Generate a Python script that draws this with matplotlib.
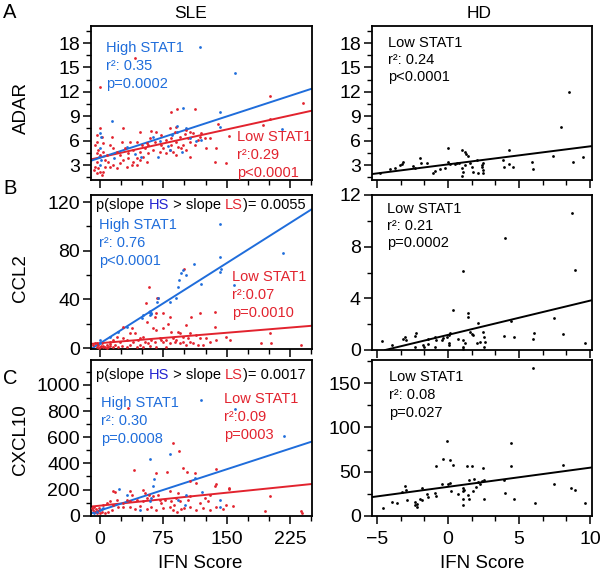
import matplotlib.pyplot as plt
from matplotlib.ticker import MultipleLocator, AutoMinorLocator
from matplotlib.offsetbox import TextArea, HPacker, AnchoredOffsetbox

plt.rcParams['font.family'] = ['Liberation Sans', 'DejaVu Sans']

# ---------------- datos ----------------
# SLE: (IFN score, expresión) - pacientes High STAT1 (HS) y Low STAT1 (LS)
adar_hs = [(119, 17.5), (160, 14.3), (98, 10.0), (142, 9.55), (13.8, 8.4), (0, 7.0),
           (1.5, 6.4), (91, 7.75), (91, 7.1), (102, 7.5), (85, 6.7), (106, 6.3),
           (114, 5.9), (63, 6.5), (71, 5.9), (31.5, 5.25), (49, 4.0), (0, 5.05),
           (-1, 4.0), (0, 3.0), (1, 3.6), (69, 4.0), (142, 7.7), (83, 4.85),
           (97.6, 4.6), (216, 7.4), (17, 3.9), (42, 4.3), (80, 5.4), (120, 6.1)]
adar_ls = [(84.6, 9.56), (91.3, 9.88), (112.2, 9.84), (27.6, 7.51), (61.0, 7.18),
           (47.2, 7.10), (66.9, 7.10), (82.7, 7.51), (89.8, 7.71), (102.4, 7.30),
           (106.3, 7.10), (120.1, 6.89), (118.1, 6.48), (116.2, 6.07), (124.0, 6.28),
           (129.9, 6.28), (104.3, 6.36), (110.2, 6.89), (78.7, 6.07), (72.8, 6.69),
           (59.1, 6.28), (55.1, 5.66), (53.2, 5.05), (43.3, 5.87), (35.4, 5.87),
           (25.6, 5.87), (11.8, 5.46), (15.7, 5.05), (19.7, 4.64), (23.6, 4.23),
           (27.6, 3.61), (33.5, 3.82), (39.4, 3.41), (43.3, 3.00), (47.2, 3.61),
           (51.2, 4.02), (55.1, 3.41), (57.1, 4.43), (63.0, 4.84), (70.9, 4.64),
           (74.8, 5.05), (78.7, 4.43), (82.7, 4.84), (86.6, 4.64), (90.5, 4.23),
           (92.5, 5.25), (96.5, 5.05), (98.4, 5.46), (102.4, 4.84), (106.3, 4.02),
           (-3.9, 6.69), (-3.9, 5.87), (-5.9, 5.46), (-2.0, 4.84), (-3.9, 4.43),
           (0.0, 4.23), (3.9, 4.64), (7.9, 4.23), (5.9, 3.61), (9.8, 3.41),
           (11.8, 2.79), (15.7, 3.00), (19.7, 2.59), (-3.9, 3.41), (-5.9, 2.79),
           (-2.0, 2.59), (0.0, 2.18), (3.9, 2.18), (-3.9, 1.97), (2.0, 1.77),
           (-7.1, 2.38), (5.9, 2.79), (23.6, 3.20), (31.5, 2.79), (37.4, 3.00),
           (43.3, 3.82), (29.5, 5.05), (33.5, 4.43), (39.4, 4.84), (47.2, 4.64),
           (49.2, 5.46), (57.1, 5.46), (65.0, 5.87), (72.8, 5.46), (84.6, 5.46),
           (90.5, 5.87), (94.5, 6.48), (84.6, 6.28), (88.6, 7.10), (100.4, 6.77),
           (106.3, 5.87), (112.2, 5.46), (126.0, 5.05), (137.8, 5.05), (135.8, 3.41),
           (149.6, 3.20), (192.9, 7.92), (200.8, 8.65), (240.2, 10.58), (0.0, 7.51),
           (2.0, 6.48), (13.8, 6.48), (3.9, 5.66), (0, 12.6), (41, 16.2),
           (201, 11.5), (153, 6.6), (140, 8.0)]

ccl2_hs = [(141.7, 101.9), (141.7, 74.5), (141.7, 62.8), (143, 65), (216.5, 77.8),
           (111.4, 68.8), (98.4, 64.1), (96.5, 61.4), (101.6, 60.0), (93.7, 55.9),
           (92.5, 50.4), (120, 52.6), (90.6, 40.8), (82.7, 38.1), (68.9, 40.8),
           (67, 38.1), (59, 30.5), (60, 29), (61, 28), (59, 27), (58, 30),
           (50.4, 27.1), (49.2, 24.4), (31.5, 17.5), (21.7, 13.4), (0, 6.6),
           (0, 3.8), (11.8, 9.3), (158.6, 51.8)]
ccl2_ls = [(99.2, 64.7), (57.9, 50.4), (68.9, 40.8), (67, 41.5), (54.3, 36.7),
           (135.8, 29.9), (65, 25.7), (66.9, 28.5), (82.7, 25.7), (118, 28.5),
           (80.7, 19.7), (55.1, 21.6), (74.8, 16.1), (63, 16.1), (66.9, 14.8),
           (84.6, 13.4), (102.4, 18.9), (135.8, 17.5), (106.3, 12.0), (92.5, 13.4),
           (94.5, 12.0), (200.8, 12.0), (37.4, 16.1), (41.3, 12.0), (27.6, 17.5),
           (35.4, 12.0), (47.2, 7.9), (51.2, 9.3), (70.9, 7.9), (72.8, 6.6),
           (78.7, 6.6), (86.6, 7.9), (90.5, 6.6), (98.4, 9.3), (104.3, 7.9),
           (114, 10.7), (118, 7.9), (126, 7.9), (129.9, 5.2), (137.8, 6.6),
           (149.6, 9.3), (153.5, 6.6), (116, 2.4), (122, 2.4), (191, 3.8),
           (202.8, 3.8), (238.2, 2.4), (11.8, 5.2), (15.7, 6.6), (19.7, 9.3),
           (23.6, 5.2), (27.6, 7.9), (31.5, 6.6), (39.4, 5.2), (45.3, 6.6),
           (53.2, 5.2), (57.1, 3.8), (61, 6.6), (65, 5.2), (74.8, 5.2), (82.7, 3.8),
           (88.6, 5.2), (94.5, 3.8), (98.4, 5.2), (102.4, 2.4), (106.3, 5.2),
           (110.2, 3.8), (-7.9, 2.4), (-5.9, 3.8), (-3.9, 1.1), (-2.0, 2.4),
           (0.0, 1.1), (2.0, 3.8), (3.9, 1.6), (5.9, 0.5), (7.9, 2.4), (9.8, 1.1),
           (11.8, 1.6), (15.7, 0.5), (17.7, 2.4), (21.7, 1.1), (25.6, 1.6),
           (31.5, 1.1), (35.4, 2.4), (43.3, 1.1), (47.2, 2.4), (51.2, 0.5),
           (59.1, 1.6), (66.9, 1.1), (78.7, 0.5), (74.8, 28.5), (108.3, 25.8),
           (-1, 0.3), (1, 2.0), (4, 0.8), (8, 0.3), (12, 3.0), (-4, 4.5)]

cxcl10_hs = [(119.3, 886), (159.5, 816), (217.3, 612), (83.1, 472), (59.5, 433),
             (63.4, 277), (22.1, 203), (32.3, 160), (63, 225), (112.2, 290),
             (120.7, 179), (102.4, 157), (142.1, 122), (142.1, 70), (92.5, 117),
             (100.4, 83), (59, 109), (47.2, 44), (3.9, 57), (0, 44), (-4, 31),
             (-7.1, 18), (2, 50), (61, 135)]
cxcl10_ls = [(86.2, 555), (93.7, 492), (40.6, 350), (66.1, 329), (79.5, 337),
             (103.5, 337), (113, 329), (137.8, 239), (114.2, 252), (136.2, 231),
             (152.8, 205), (200.8, 148), (194.9, 37), (238.2, 37), (239.4, 18),
             (15.7, 187), (17.7, 179), (35.4, 187), (37.4, 161), (51.2, 200),
             (53.2, 174), (63, 148), (68.9, 161), (82.7, 187), (92.5, 174),
             (106.3, 148), (104.3, 122), (90.5, 135), (94.5, 109), (124, 135),
             (128, 109), (70.9, 117), (76.8, 122), (84.6, 109), (35.4, 109),
             (43.3, 122), (51.2, 109), (55.1, 135), (11.8, 109), (19.7, 122),
             (27.6, 96), (31.5, 117), (3.9, 83), (7.9, 96), (15.7, 83), (21.7, 70),
             (27.6, 70), (35.4, 65), (41.3, 49), (47.2, 75), (55.1, 55), (61, 70),
             (66.9, 44), (74.8, 57), (82.7, 70), (86.6, 44), (91.3, 31), (96.5, 49),
             (106.3, 65), (114.2, 44), (122, 57), (129.9, 44), (149.6, 83),
             (157.5, 75), (145.7, 55), (137.8, 65), (-9.8, 57), (-7.9, 44),
             (-5.9, 31), (-3.9, 18), (-2.0, 39), (0.0, 23), (-7.1, 65), (-4.7, 49),
             (-0.8, 57), (2.0, 31), (5.9, 18), (9.8, 31), (13.8, 44), (33.5, 820),
             (98.4, 368), (106.3, 264), (137.8, 360), (152.8, 212), (58, 160),
             (72, 95), (88, 85), (100, 60), (118, 100), (130, 160)]

# HD: donantes sanos
hd_adar = [(8.54, 12.0), (7.96, 7.7), (0.02, 5.05), (0.96, 4.84), (1.2, 4.64),
           (1.3, 4.35), (1.4, 4.14), (4.32, 4.84), (7.37, 4.14), (9.53, 4.02),
           (8.82, 3.4), (5.89, 3.32), (6.01, 2.46), (3.85, 3.61), (3.94, 2.79),
           (4.32, 3.12), (4.55, 2.79), (-3.14, 3.41), (-3.26, 3.12), (-1.97, 3.82),
           (-1.92, 3.2), (-1.5, 3.2), (-2.44, 2.87), (-2.32, 2.59), (-3.73, 2.59),
           (-4.08, 2.5), (-4.79, 1.97), (-3.38, 2.99), (-1.03, 1.97), (-0.91, 2.3),
           (-0.56, 2.5), (-0.21, 2.59), (0.02, 3.41), (0.14, 3.12), (0.61, 3.2),
           (0.96, 2.59), (1.03, 2.17), (0.96, 1.64), (1.2, 3.0), (1.55, 3.28),
           (1.67, 2.79), (1.78, 2.17), (2.14, 1.97), (2.02, 3.61), (2.37, 2.99),
           (2.49, 2.38), (2.44, 3.28), (2.37, 2.7), (2.44, 2.05), (0.49, 3.12),
           (0.8, 3.2)]
hd_ccl2 = [(8.71, 10.59), (4.01, 8.68), (1.03, 6.1), (8.94, 6.2), (0.38, 3.06),
           (1.43, 2.85), (1.43, 2.59), (2.14, 2.08), (4.41, 2.28), (7.49, 2.46),
           (8.12, 1.25), (9.65, 0.56), (3.94, 1.12), (4.65, 0.99), (6.08, 1.33),
           (6.01, 0.87), (-4.65, 0.68), (-3.94, 0.4), (-3.14, 0.87), (-2.96, 0.79),
           (-3.03, 1.0), (-2.32, 1.12), (-2.25, 1.33), (-2.32, 0.27), (-1.78, 0.4),
           (-1.69, 0.22), (-1.38, 0.87), (-1.38, 0.48), (-0.91, 0.99), (-0.84, 0.79),
           (-0.91, 0.27), (-0.44, 0.79), (-0.33, 0.94), (-0.1, 0.99), (0.09, 1.2),
           (0.14, 1.3), (0.09, 0.53), (0.09, 0.35), (0.73, 0.87), (1.08, 0.79),
           (1.2, 0.53), (1.08, 0.22), (1.08, 0.09), (1.55, 1.38), (1.67, 1.25),
           (1.78, 1.2), (2.02, 0.53), (2.25, 0.61), (2.49, 1.38), (2.53, 0.99),
           (2.6, 0.61), (2.53, 0.22)]
hd_cxcl10 = [(6.0, 167), (-0.09, 84.8), (4.41, 81.8), (-0.37, 64.8), (0.14, 63.7),
             (0.38, 57.3), (-0.84, 56.6), (1.31, 56.6), (1.67, 56.2), (4.41, 56.2),
             (8.07, 58.1), (2.49, 54.3), (1.83, 42.2), (1.5, 40.4), (-0.45, 36.6),
             (0.02, 36.6), (0.14, 37.4), (2.14, 38.5), (2.37, 39.2), (2.53, 40.4),
             (3.94, 41.1), (7.49, 36.6), (8.64, 32.1), (8.94, 29.1), (9.65, 14.7),
             (6.13, 15.1), (4.67, 18.9), (4.01, 26.0), (2.56, 18.9), (1.08, 32.1),
             (1.03, 28.3), (1.08, 19.6), (1.08, 12.1), (1.15, 29.1), (1.43, 23.4),
             (1.5, 19.6), (1.78, 28.3), (1.97, 32.8), (2.25, 36.6), (0.73, 25.3),
             (0.19, 28.3), (-1.5, 25.3), (-1.38, 21.5), (-1.85, 32.1), (-1.97, 19.6),
             (-1.85, 17.7), (-2.32, 15.9), (-2.32, 12.1), (-2.21, 10.2), (-2.21, 14.0),
             (-3.03, 33.6), (-2.96, 29.8), (-3.26, 27.2), (-2.91, 18.5), (-3.61, 15.1),
             (-3.97, 15.9), (-4.6, 9.5), (-0.91, 26.0), (-0.84, 22.3)]

# rectas de regresión: (intercepto, pendiente)
fit_adar = {'hs': (3.89, 0.0339), 'ls': (3.94, 0.0229), 'hd': (3.08, 0.222)}
fit_ccl2 = {'hs': (3.8, 0.44), 'ls': (4.0, 0.057), 'hd': (1.17, 0.265)}
fit_cxcl10 = {'hs': (40, 2.1), 'ls': (77, 0.66), 'hd': (32.9, 2.16)}

# textos de estadística
stats_adar = {'hs': ['High STAT1', 'r²: 0.35', 'p=0.0002'],
              'ls': ['Low STAT1', 'r²:0.29', 'p<0.0001'],
              'hd': ['Low STAT1', 'r²: 0.24', 'p<0.0001']}
stats_ccl2 = {'hs': ['High STAT1', 'r²: 0.76', 'p<0.0001'],
              'ls': ['Low STAT1', 'r²:0.07', 'p=0.0010'],
              'hd': ['Low STAT1', 'r²: 0.21', 'p=0.0002']}
stats_cxcl10 = {'hs': ['High STAT1', 'r²: 0.30', 'p=0.0008'],
                'ls': ['Low STAT1', 'r²:0.09', 'p=0003'],
                'hd': ['Low STAT1', 'r²: 0.08', 'p=0.027']}
slope_p = {'ccl2': '0.0055', 'cxcl10': '0.0017'}

# ---------------- estilo ----------------
BLUE = '#1f6ddb'
RED = '#e2232e'
HS_BLUE = '#2323d0'
W, H = 600, 572
FS_TICK = 14
FS_STAT = 10.5

fig = plt.figure(figsize=(W / 100, H / 100), dpi=100)


def crear_eje(caja, xlim, ylim, ymaj, ymin, xmaj, etiquetas_x):
    l, t, r, b = caja
    ax = fig.add_axes([l / W, 1 - b / H, (r - l) / W, (b - t) / H])
    ax.set_xlim(xlim)
    ax.set_ylim(ylim)
    ax.xaxis.set_major_locator(MultipleLocator(xmaj))
    ax.xaxis.set_minor_locator(AutoMinorLocator(3))
    ax.yaxis.set_major_locator(MultipleLocator(ymaj))
    ax.yaxis.set_minor_locator(MultipleLocator(ymin))
    ax.tick_params(which='major', direction='out', length=6, width=1.1,
                   labelsize=FS_TICK, pad=2)
    ax.tick_params(which='minor', direction='out', length=3.5, width=1.0)
    ax.tick_params(axis='x', pad=5, labelbottom=etiquetas_x)
    for s in ax.spines.values():
        s.set_linewidth(1.3)
    return ax


def puntos(ax, datos, color):
    xs = [p[0] for p in datos]
    ys = [p[1] for p in datos]
    ax.scatter(xs, ys, s=4, color=color, linewidths=0, zorder=3)


def recta(ax, fit, color):
    b0, m = fit
    ax.axline((0, b0), slope=m, color=color, lw=1.4, zorder=2)


def bloque(ax, caja, px, py, lineas, color, dy=18, clip=False):
    l, t, r, b = caja
    for i, s in enumerate(lineas):
        ax.text((px - l) / (r - l), (b - (py + i * dy)) / (b - t), s,
                transform=ax.transAxes, color=color, fontsize=FS_STAT,
                ha='left', va='center', clip_on=clip)


def texto_pendiente(ax, caja, px, py, valor):
    l, t, r, b = caja
    partes = [('p(slope ', 'black'), ('HS', HS_BLUE), (' > slope ', 'black'),
              ('LS', RED), (')= ' + valor, 'black')]
    areas = []
    for s, c in partes:
        ta = TextArea(s, textprops=dict(color=c, fontsize=FS_STAT))
        ta._text.set_clip_on(True)
        ta._text.set_clip_box(ax.bbox)
        areas.append(ta)
    caja_txt = HPacker(children=areas, align='baseline', pad=0, sep=0)
    anc = AnchoredOffsetbox(loc='center left', child=caja_txt, pad=0, borderpad=0,
                            frameon=False,
                            bbox_to_anchor=((px - l) / (r - l), (b - py) / (b - t)),
                            bbox_transform=ax.transAxes)
    ax.add_artist(anc)


SLE_X = (-10.6, 251)
HD_X = (-5.35, 10.14)

cajas = {
    'A_sle': (91, 26, 312, 180), 'A_hd': (372, 26, 592, 180),
    'B_sle': (91, 195, 312, 349), 'B_hd': (372, 195, 592, 350),
    'C_sle': (91, 360, 312, 516), 'C_hd': (372, 360, 592, 516),
}

# ---- fila A: ADAR ----
ax = crear_eje(cajas['A_sle'], SLE_X, (1.16, 20.1), 3, 1.5, 75, False)
puntos(ax, adar_ls, RED)
puntos(ax, adar_hs, BLUE)
recta(ax, fit_adar['ls'], RED)
recta(ax, fit_adar['hs'], BLUE)
bloque(ax, cajas['A_sle'], 106, 48, stats_adar['hs'], BLUE)
bloque(ax, cajas['A_sle'], 237, 137, stats_adar['ls'], RED, clip=True)

ax = crear_eje(cajas['A_hd'], HD_X, (1.16, 20.1), 3, 1.5, 5, False)
puntos(ax, hd_adar, 'black')
recta(ax, fit_adar['hd'], 'black')
bloque(ax, cajas['A_hd'], 388, 43, stats_adar['hd'], 'black', dy=17)

# ---- fila B: CCL2 ----
ax = crear_eje(cajas['B_sle'], SLE_X, (-0.8, 125.8), 40, 20, 75, False)
puntos(ax, ccl2_ls, RED)
puntos(ax, ccl2_hs, BLUE)
recta(ax, fit_ccl2['ls'], RED)
recta(ax, fit_ccl2['hs'], BLUE)
texto_pendiente(ax, cajas['B_sle'], 96, 205, slope_p['ccl2'])
bloque(ax, cajas['B_sle'], 99, 225, stats_ccl2['hs'], BLUE)
bloque(ax, cajas['B_sle'], 232, 277, stats_ccl2['ls'], RED, clip=True)

ax = crear_eje(cajas['B_hd'], HD_X, (0, 12), 4, 2, 5, False)
puntos(ax, hd_ccl2, 'black')
recta(ax, fit_ccl2['hd'], 'black')
bloque(ax, cajas['B_hd'], 387, 209, stats_ccl2['hd'], 'black', dy=17)

# ---- fila C: CXCL10 ----
ax = crear_eje(cajas['C_sle'], SLE_X, (-2, 1190), 200, 100, 75, True)
puntos(ax, cxcl10_ls, RED)
puntos(ax, cxcl10_hs, BLUE)
recta(ax, fit_cxcl10['ls'], RED)
recta(ax, fit_cxcl10['hs'], BLUE)
texto_pendiente(ax, cajas['C_sle'], 96, 375, slope_p['cxcl10'])
bloque(ax, cajas['C_sle'], 101, 403, stats_cxcl10['hs'], BLUE)
bloque(ax, cajas['C_sle'], 224, 399, stats_cxcl10['ls'], RED, clip=True)
ax.set_xticks([0, 75, 150, 225])

ax = crear_eje(cajas['C_hd'], HD_X, (0, 176), 50, 25, 5, True)
puntos(ax, hd_cxcl10, 'black')
recta(ax, fit_cxcl10['hd'], 'black')
bloque(ax, cajas['C_hd'], 389, 377, stats_cxcl10['hd'], 'black', dy=18)

# ---- títulos y etiquetas ----
fig.text(191 / W, 1 - 14 / H, 'SLE', fontsize=12.5, ha='center', va='center')
fig.text(479 / W, 1 - 14 / H, 'HD', fontsize=12.5, ha='center', va='center')
for letra, py in [('A', 13), ('B', 188), ('C', 378)]:
    fig.text(10 / W, 1 - py / H, letra, fontsize=14.5, ha='center', va='center')
for nombre, py in [('ADAR', 108), ('CCL2', 278), ('CXCL10', 440)]:
    fig.text(21 / W, 1 - py / H, nombre, fontsize=13.5, rotation=90,
             ha='center', va='center')
fig.text(200 / W, 1 - 563 / H, 'IFN Score', fontsize=13.5, ha='center', va='center')
fig.text(482 / W, 1 - 563 / H, 'IFN Score', fontsize=13.5, ha='center', va='center')

fig.savefig('out.png', dpi=100)
plt.close(fig)
